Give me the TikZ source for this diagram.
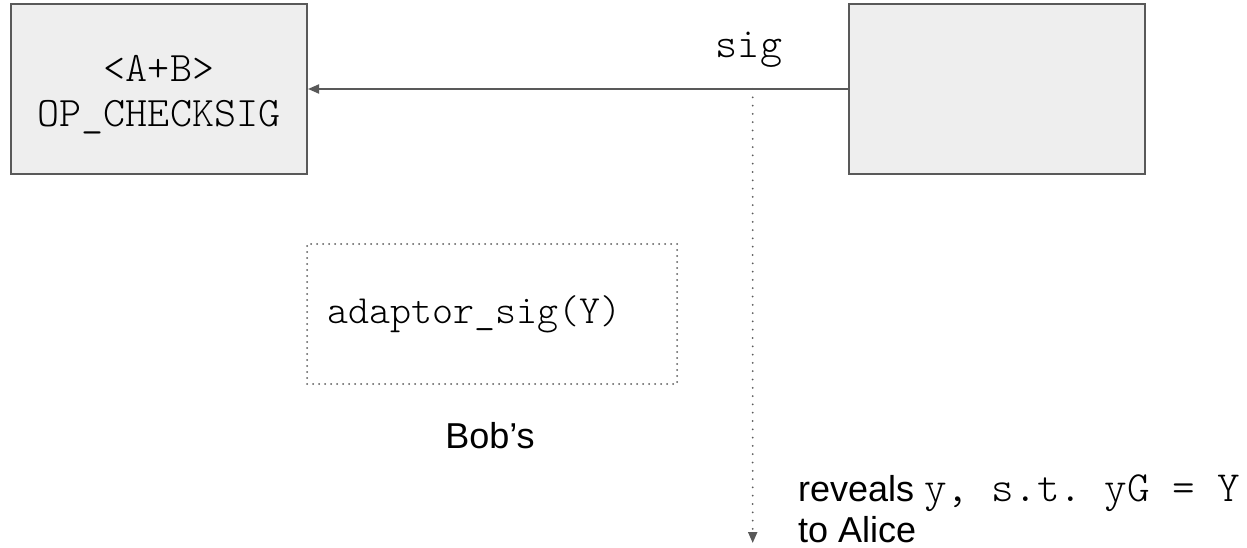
\documentclass[tikz,border=0pt]{standalone}
\usepackage{fontspec}
\setmainfont{Liberation Sans}
\setmonofont{Latin Modern Mono Light}
\usetikzlibrary{arrows.meta}

\definecolor{panelfill}{HTML}{EEEEEE}
\definecolor{edgegray}{HTML}{595959}

\tikzset{
  panel/.style={draw=edgegray, fill=panelfill, line width=2pt,
    minimum width=296pt, minimum height=170pt, inner sep=0pt},
  monotext/.style={font=\fontsize{42}{45}\selectfont\ttfamily},
  sanstext/.style={font=\fontsize{36}{41}\selectfont},
  dotline/.style={edgegray, line width=2pt, line cap=round, dash pattern=on 0pt off 8.3pt},
  dotbox/.style={draw=edgegray, line width=2pt, line cap=round, dash pattern=on 0pt off 6pt,
    minimum height=140pt, text width=330pt, inner xsep=20pt, align=left},
  tip/.style={-{Triangle[length=11pt,width=9pt]}}
}

\begin{document}
\begin{tikzpicture}[x=1pt,y=-1pt]
  \useasboundingbox (0,0) rectangle (1247,548);
  % the two transactions
  \node[panel, monotext, align=center, text height=76pt, text depth=0pt] (script) at (159,89) {<A+B>\\OP\_CHECKSIG};
  \node[panel] (spend) at (996.5,89) {};
  \draw[edgegray, line width=2pt, tip] (spend.west) -- (script.east);
  \node[monotext, anchor=base] (siglbl) at (749,58) {sig};
  % revealed secret
  \coordinate (tap) at (752.7,89);
  \coordinate (drop) at (752.7,543);
  \draw[dotline, tip] (tap) -- (drop);
  \node[sanstext, anchor=base west, align=left, inner sep=0pt] (reveal) at (798,542)
    {reveals {\fontsize{43}{41}\selectfont\ttfamily\frenchspacing y, s.t. yG = Y}\\to Alice};
  % Bob's adaptor signature
  \node[dotbox, font=\fontsize{40}{40}\selectfont\ttfamily] (adaptor) at (492,314) {adaptor\_sig(Y)};
  \node[sanstext, anchor=base] (bob) at (490,448) {Bob’s};
\end{tikzpicture}
\end{document}
